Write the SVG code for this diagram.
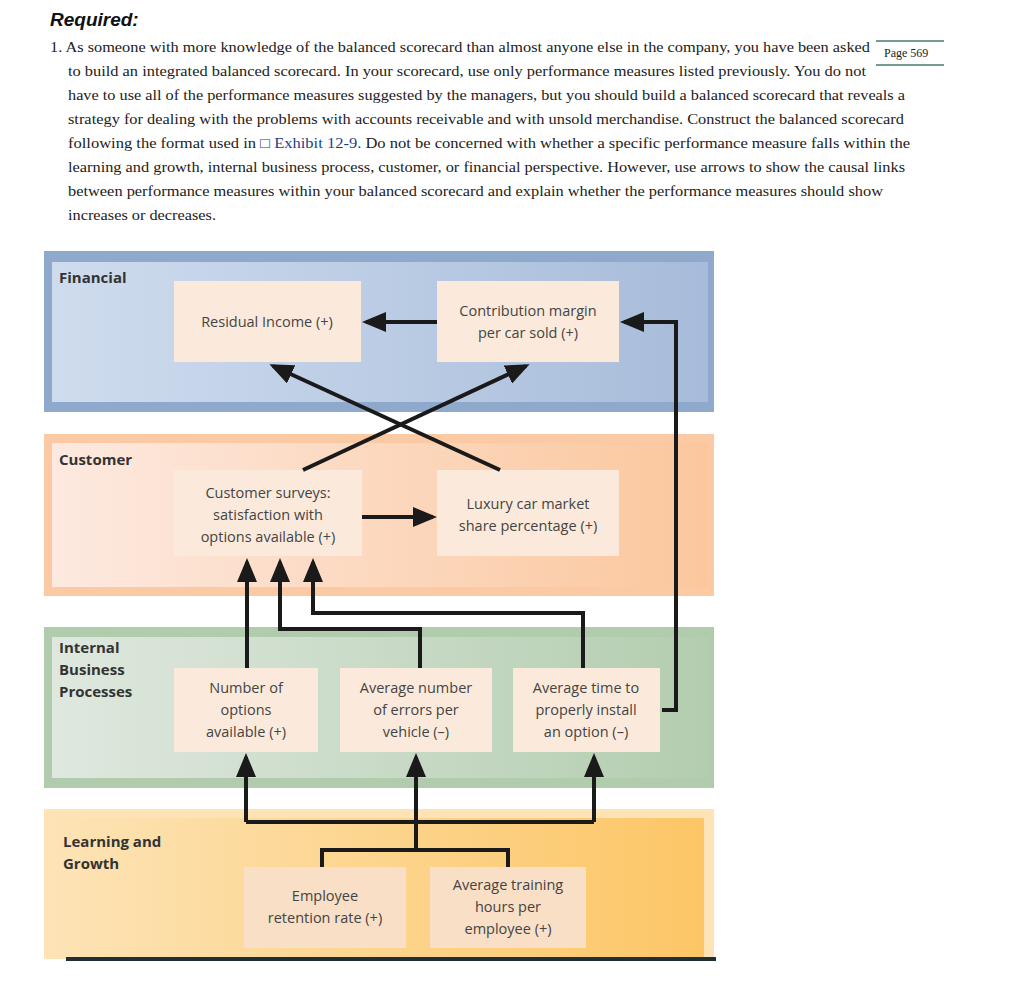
<svg xmlns="http://www.w3.org/2000/svg" width="1024" height="982" viewBox="0 0 1024 982">
<style>
.p{font-family:"Liberation Serif",serif;font-size:14.5px;fill:#222}
.n{font-family:"Open Sans","Liberation Sans",sans-serif;font-size:14.5px;fill:#444;text-anchor:middle}
.h{font-family:"Open Sans","Liberation Sans",sans-serif;font-size:15px;font-weight:bold;fill:#333}
.box{fill:#fbeadb}
.c{fill:none;stroke:#1a1a1a;stroke-width:4}
</style>
<defs>
<marker id="a" markerWidth="6" markerHeight="5" refX="5" refY="2.5" orient="auto" markerUnits="strokeWidth"><path d="M0,0L6,2.5L0,5z" fill="#1a1a1a"/></marker>
<linearGradient id="gf" x1="0" x2="1"><stop offset="0" stop-color="#cfdcee"/><stop offset="1" stop-color="#a7bcda"/></linearGradient>
<linearGradient id="gc" x1="0" x2="1"><stop offset="0" stop-color="#fde9e0"/><stop offset="1" stop-color="#fbc79d"/></linearGradient>
<linearGradient id="gi" x1="0" x2="1"><stop offset="0" stop-color="#dfe8df"/><stop offset="1" stop-color="#b3cdaf"/></linearGradient>
<linearGradient id="gl" x1="0" x2="1"><stop offset="0" stop-color="#fde3b5"/><stop offset="1" stop-color="#fcc666"/></linearGradient>
</defs>
<text x="50" y="26" font-family="Liberation Sans,sans-serif" font-size="19" font-weight="bold" font-style="italic" fill="#111">Required:</text>
<g class="p">
<text x="50" y="52" textLength="820" lengthAdjust="spacingAndGlyphs">1. As someone with more knowledge of the balanced scorecard than almost anyone else in the company, you have been asked</text>
<text x="68" y="76" textLength="798" lengthAdjust="spacingAndGlyphs">to build an integrated balanced scorecard. In your scorecard, use only performance measures listed previously. You do not</text>
<text x="68" y="100" textLength="837" lengthAdjust="spacingAndGlyphs">have to use all of the performance measures suggested by the managers, but you should build a balanced scorecard that reveals a</text>
<text x="68" y="124" textLength="836" lengthAdjust="spacingAndGlyphs">strategy for dealing with the problems with accounts receivable and with unsold merchandise. Construct the balanced scorecard</text>
<text x="68" y="148" textLength="842" lengthAdjust="spacingAndGlyphs">following the format used in <tspan fill="#1a3f8a">□ Exhibit 12-9.</tspan> Do not be concerned with whether a specific performance measure falls within the</text>
<text x="68" y="172" textLength="837" lengthAdjust="spacingAndGlyphs">learning and growth, internal business process, customer, or financial perspective. However, use arrows to show the causal links</text>
<text x="68" y="196" textLength="815" lengthAdjust="spacingAndGlyphs">between performance measures within your balanced scorecard and explain whether the performance measures should show</text>
<text x="68" y="220" textLength="148" lengthAdjust="spacingAndGlyphs">increases or decreases.</text>
</g>
<line x1="876" y1="41" x2="944" y2="41" stroke="#4a7a6a" stroke-width="1.5"/>
<line x1="876" y1="65" x2="944" y2="65" stroke="#4a7a6a" stroke-width="1.5"/>
<text x="884" y="57" font-family="Liberation Serif,serif" font-size="12" fill="#222">Page 569</text>

<rect x="44" y="251" width="670" height="161" fill="#8fa9cc"/>
<rect x="52" y="262" width="656" height="140" fill="url(#gf)"/>
<rect x="44" y="434" width="670" height="162" fill="#fbc9a4"/>
<rect x="52" y="443" width="656" height="144" fill="url(#gc)"/>
<rect x="44" y="627" width="670" height="161" fill="#b0ccac"/>
<rect x="52" y="637" width="656" height="141" fill="url(#gi)"/>
<rect x="44" y="809" width="670" height="150" fill="#fde3b5"/>
<rect x="54" y="818" width="650" height="141" fill="url(#gl)"/>
<rect x="66" y="957" width="650" height="4" fill="#1f2f33"/>
<text class="h" x="59" y="283">Financial</text>
<text class="h" x="59" y="465">Customer</text>
<text class="h" x="59" y="653">Internal</text>
<text class="h" x="59" y="675">Business</text>
<text class="h" x="59" y="697">Processes</text>
<text class="h" x="63" y="847">Learning and</text>
<text class="h" x="63" y="869">Growth</text>

<g id="residual"><rect class="box" x="174" y="281" width="187" height="81"/><text class="n" x="267" y="327">Residual Income (+)</text></g>
<g id="contribution"><rect class="box" x="437" y="281" width="182" height="81"/><text class="n" x="528" y="316">Contribution margin</text><text class="n" x="528" y="338">per car sold (+)</text></g>
<g id="surveys"><rect class="box" x="174" y="470" width="188" height="86"/><text class="n" x="268" y="498">Customer surveys:</text><text class="n" x="268" y="520">satisfaction with</text><text class="n" x="268" y="542">options available (+)</text></g>
<g id="luxury"><rect class="box" x="437" y="470" width="182" height="86"/><text class="n" x="528" y="509">Luxury car market</text><text class="n" x="528" y="531">share percentage (+)</text></g>
<g id="options"><rect class="box" x="174" y="668" width="144" height="84"/><text class="n" x="246" y="693">Number of</text><text class="n" x="246" y="715">options</text><text class="n" x="246" y="737">available (+)</text></g>
<g id="errors"><rect class="box" x="340" y="668" width="152" height="84"/><text class="n" x="416" y="693">Average number</text><text class="n" x="416" y="715">of errors per</text><text class="n" x="416" y="737">vehicle (–)</text></g>
<g id="installtime"><rect class="box" x="513" y="668" width="147" height="84"/><text class="n" x="586" y="693">Average time to</text><text class="n" x="586" y="715">properly install</text><text class="n" x="586" y="737">an option (–)</text></g>
<g id="retention"><rect x="244" y="867" width="162" height="81" fill="#f8dfc6"/><text class="n" x="325" y="901">Employee</text><text class="n" x="325" y="923">retention rate (+)</text></g>
<g id="training"><rect x="430" y="867" width="156" height="81" fill="#f8dfc6"/><text class="n" x="508" y="890">Average training</text><text class="n" x="508" y="912">hours per</text><text class="n" x="508" y="934">employee (+)</text></g>

<g id="connectors">
<path class="c" d="M437,322H366" marker-end="url(#a)"/>
<path class="c" d="M662,710H676V322H624" marker-end="url(#a)"/>
<path class="c" d="M303,470L526,366" marker-end="url(#a)"/>
<path class="c" d="M500,470L273,366" marker-end="url(#a)"/>
<path class="c" d="M362,517H433" marker-end="url(#a)"/>
<path class="c" d="M247,668V562" marker-end="url(#a)"/>
<path class="c" d="M420,668V629H280V562" marker-end="url(#a)"/>
<path class="c" d="M583,668V613H313V562" marker-end="url(#a)"/>
<path class="c" d="M246,822V757" marker-end="url(#a)"/>
<path class="c" d="M416,850V757" marker-end="url(#a)"/>
<path class="c" d="M594,822V757" marker-end="url(#a)"/>
<path class="c" d="M246,822H594"/>
<path class="c" d="M322,867V850H508V867"/>
</g>
</svg>
